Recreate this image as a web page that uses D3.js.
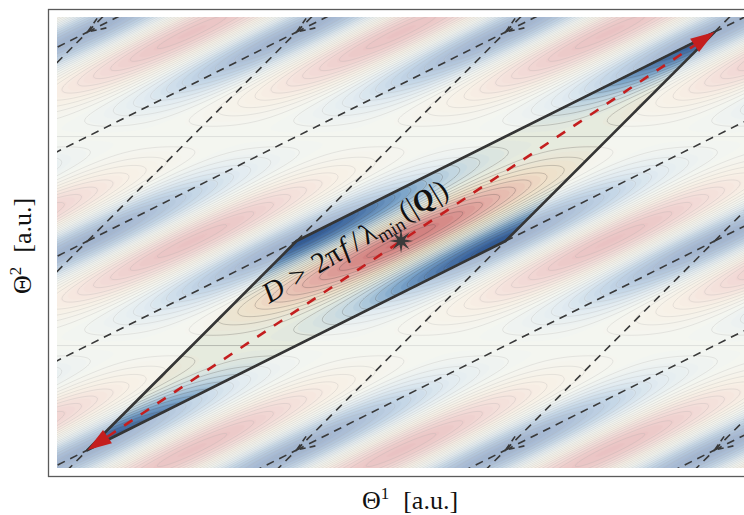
<!DOCTYPE html>
<html>
<head>
<meta charset="utf-8">
<script src="https://cdn.jsdelivr.net/npm/d3@7"></script>
<style>
  body { margin: 0; background: #fff; }
  svg { display: block; }
</style>
</head>
<body>
<script>
// axis extents, in lattice periods
const sRange = [-1.646, 1.66];    // Θ¹
const tRange = [-1.086, 1.072];   // Θ²

// unit cell (A, B, D, E) and the closed loop along its diagonal
const cellS = [-1.5, -0.5, 1.5, 0.5];
const cellT = [-1, 0, 1, 0];
const loopS = [-1.5, 1.5];
const loopT = [-1, 1];
const starS = 0, starT = 0;

// lattice shifts for the dashed copies
const shiftS = [-4, -3, -2, -1, 0, 1, 2, 3, 4];
const shiftT = [-2, -1, 0, 1, 2];

// dashed arrow-tip copies
const chevS = [-1.5, -0.5, 0.5, 1.5];
const chevT = [-1, 1];

// seams of the landscape
const seamT = [-0.5, 0.5];

// landscape shape
const tilt = 2;
const envPow = 1.6;
const bandLevels = d3.range(-1.01, 1.0, 0.05);
const lineLevels = d3.range(-0.95, 0.96, 0.1);
const colorStops = [-1, -0.6, -0.3, 0, 0.35, 0.7, 1];
const colorHex = ["#2f5894", "#7aa3c9", "#c0d5e1", "#e6ebdf", "#efe0c9", "#e4b0a8", "#d07c7c"];

const width = 744, height = 515;
const plot = {left: 57, right: 748, top: 17, bottom: 468};

const svg = d3.select("body").append("svg")
  .attr("width", width)
  .attr("height", height);

const x = d3.scaleLinear().domain(sRange).range([plot.left, plot.right]);
const y = d3.scaleLinear().domain(tRange).range([plot.bottom, plot.top]);
const color = d3.scaleLinear().domain(colorStops).range(colorHex).interpolate(d3.interpolateRgb);

function field(s, t) {
  const tw = t - Math.round(t);
  return Math.cos(2 * Math.PI * (s - tilt * tw)) * Math.pow(Math.cos(Math.PI * tw), envPow);
}

svg.append("clipPath").attr("id", "plotclip")
  .append("rect")
  .attr("x", plot.left).attr("y", plot.top)
  .attr("width", plot.right - plot.left).attr("height", plot.bottom - plot.top);

const g = svg.append("g").attr("clip-path", "url(#plotclip)");

// sample the landscape on a grid (a bit larger than the plot)
const step = 2, pad = 2;
const x0 = plot.left - pad * step, y0 = plot.top - pad * step;
const n = Math.ceil((plot.right - plot.left) / step) + 2 * pad;
const m = Math.ceil((plot.bottom - plot.top) / step) + 2 * pad;
const values = new Float64Array(n * m);
for (let j = 0; j < m; j++) {
  for (let i = 0; i < n; i++) {
    const px = x0 + (i + 0.5) * step, py = y0 + (j + 0.5) * step;
    values[j * n + i] = field(x.invert(px), y.invert(py));
  }
}

const gridPath = d3.geoPath(d3.geoIdentity().scale(step).translate([x0, y0]));

g.append("g").selectAll("path")
  .data(d3.contours().size([n, m]).thresholds(bandLevels)(values))
  .join("path")
  .attr("d", gridPath)
  .attr("fill", d => color(d.value + 0.025))
  .attr("stroke", d => color(d.value + 0.025))
  .attr("stroke-width", 0.4);

g.append("g").selectAll("path")
  .data(d3.contours().size([n, m]).thresholds(lineLevels)(values))
  .join("path")
  .attr("d", gridPath)
  .attr("fill", "none")
  .attr("stroke", "#4a4a4a")
  .attr("stroke-opacity", 0.42)
  .attr("stroke-width", 0.6);

g.append("g").selectAll("line")
  .data(seamT)
  .join("line")
  .attr("x1", plot.left).attr("x2", plot.right)
  .attr("y1", d => y(d)).attr("y2", d => y(d))
  .attr("stroke", "#606060")
  .attr("stroke-opacity", 0.35)
  .attr("stroke-width", 1);

// wash out everything outside the unit cell
const cellPts = cellS.map((s, i) => [x(s), y(cellT[i])]);
g.append("path")
  .attr("d", `M${plot.left},${plot.top}H${plot.right}V${plot.bottom}H${plot.left}Z` +
    "M" + cellPts.map(p => p.join(",")).join("L") + "Z")
  .attr("fill", "#fff")
  .attr("fill-opacity", 0.55)
  .attr("fill-rule", "evenodd");

// dashed lattice copies of the cell: edges A-B and A-E of every copy
// (the other two edges of a copy are A-B / A-E of a neighbour)
const edges = [];
shiftS.forEach(a => shiftT.forEach(b => {
  edges.push([[cellS[0] + a, cellT[0] + b], [cellS[1] + a, cellT[1] + b]]);
  edges.push([[cellS[0] + a, cellT[0] + b], [cellS[3] + a, cellT[3] + b]]);
}));
const cellLine = d3.line().x(d => x(d[0])).y(d => y(d[1]));

g.append("g").selectAll("path")
  .data(edges)
  .join("path")
  .attr("d", cellLine)
  .attr("fill", "none")
  .attr("stroke", "#383838")
  .attr("stroke-width", 1.6)
  .attr("stroke-dasharray", "8,6");

// unit vector of the loop in pixels
const lx = x(loopS[1]) - x(loopS[0]), ly = y(loopT[1]) - y(loopT[0]);
const ll = Math.hypot(lx, ly);
const ux = lx / ll, uy = ly / ll;

// dashed arrow-tip copies
const chevs = [];
chevS.forEach(s => chevT.forEach(t => {
  if (!(s === loopS[0] && t === loopT[0]) && !(s === loopS[1] && t === loopT[1])) chevs.push([s, t]);
}));
g.append("g").selectAll("path")
  .data(chevs)
  .join("path")
  .attr("d", d => {
    const px = x(d[0]), py = y(d[1]);
    const bx = px + 18 * ux, by = py + 18 * uy;
    return `M${bx - 7 * uy},${by + 7 * ux}L${px},${py}L${bx + 7 * uy},${by - 7 * ux}`;
  })
  .attr("fill", "none")
  .attr("stroke", "#383838")
  .attr("stroke-width", 1.6)
  .attr("stroke-dasharray", "6,4");

// solid unit cell
g.append("path")
  .attr("d", cellLine(cellS.map((s, i) => [s, cellT[i]])) + "Z")
  .attr("fill", "none")
  .attr("stroke", "#353535")
  .attr("stroke-width", 2.6)
  .attr("stroke-linejoin", "round");

// red loop with arrow heads at both ends
const headLen = 24, headHalf = 8;
const tips = [
  {px: x(loopS[0]), py: y(loopT[0]), dx: -ux, dy: -uy},
  {px: x(loopS[1]), py: y(loopT[1]), dx: ux, dy: uy}
];
g.append("line")
  .attr("x1", tips[0].px + headLen * ux).attr("y1", tips[0].py + headLen * uy)
  .attr("x2", tips[1].px - headLen * ux).attr("y2", tips[1].py - headLen * uy)
  .attr("stroke", "#c41e1e")
  .attr("stroke-width", 2.6)
  .attr("stroke-dasharray", "10,10");

g.append("g").selectAll("path")
  .data(tips)
  .join("path")
  .attr("d", d => {
    const bx = d.px - headLen * d.dx, by = d.py - headLen * d.dy;
    return `M${d.px},${d.py}L${bx - headHalf * d.dy},${by + headHalf * d.dx}` +
      `L${bx + headHalf * d.dy},${by - headHalf * d.dx}Z`;
  })
  .attr("fill", "#c41e1e");

// star at the cell centre
const starPts = d3.range(16).map(k => [k * Math.PI / 8, k % 2 ? 4 : 12]);
g.append("path")
  .attr("transform", `translate(${x(starS)},${y(starT)})`)
  .attr("d", d3.lineRadial().curve(d3.curveLinearClosed)(starPts))
  .attr("fill", "#3a3a3a");

// condition label along the loop
const label = g.append("text")
  .attr("transform", `translate(${x(-0.63)},${y(-0.30)}) rotate(-31)`)
  .attr("font-family", "'Liberation Serif', 'DejaVu Serif', serif")
  .attr("font-size", 29)
  .attr("fill", "#111");
label.append("tspan").attr("font-style", "italic").text("D");
label.append("tspan").attr("dx", 10).text(">");
label.append("tspan").attr("dx", 10).text("2π");
label.append("tspan").attr("dx", 2).attr("font-style", "italic").text("f");
label.append("tspan").attr("dx", 5).text("/");
label.append("tspan").attr("dx", 4).text("λ");
label.append("tspan").attr("font-size", 19).attr("dy", 6).text("min");
label.append("tspan").attr("dy", -6).attr("dx", 2).text("(|");
label.append("tspan").attr("font-style", "italic").attr("font-weight", "bold").text("Q");
label.append("tspan").text("|)");

// frame
svg.append("rect")
  .attr("x", 48.5).attr("y", 9.5)
  .attr("width", 704).attr("height", 467)
  .attr("fill", "none")
  .attr("stroke", "#5a5a5a")
  .attr("stroke-width", 1.3);

// axis titles
const xt = svg.append("text")
  .attr("x", 410).attr("y", 509)
  .attr("text-anchor", "middle")
  .attr("font-family", "'Liberation Serif', 'DejaVu Serif', serif")
  .attr("font-size", 26)
  .attr("fill", "#111");
xt.append("tspan").text("Θ");
xt.append("tspan").attr("font-size", 17).attr("dy", -10).text("1");
xt.append("tspan").attr("dy", 10).attr("dx", 14).text("[a.u.]");

const yt = svg.append("text")
  .attr("transform", "translate(31,246) rotate(-90)")
  .attr("text-anchor", "middle")
  .attr("font-family", "'Liberation Serif', 'DejaVu Serif', serif")
  .attr("font-size", 26)
  .attr("fill", "#111");
yt.append("tspan").text("Θ");
yt.append("tspan").attr("font-size", 17).attr("dy", -10).text("2");
yt.append("tspan").attr("dy", 10).attr("dx", 14).text("[a.u.]");
</script>
</body>
</html>
